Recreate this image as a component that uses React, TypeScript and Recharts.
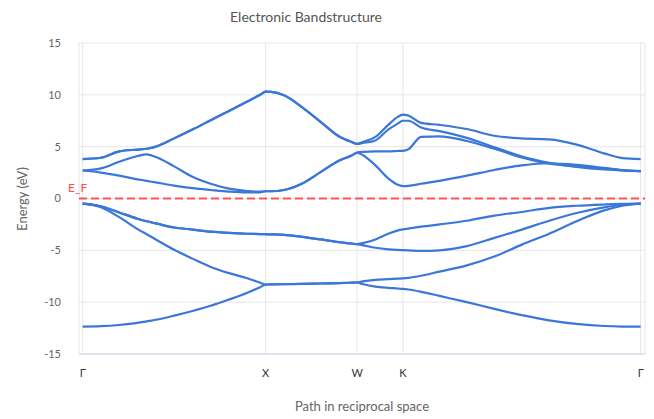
import React from 'react';
import { LineChart, Line, XAxis, YAxis, CartesianGrid, ReferenceLine } from 'recharts';

// Path coordinate along Γ – X – W – K – Γ
const kPoints = [
  0, 0.1, 0.2, 0.3, 0.35, 0.4, 0.5, 0.6, 0.7, 0.8, 0.9, 0.97, 1.0,
  1.03, 1.1, 1.2, 1.3, 1.4, 1.47, 1.5,
  1.53, 1.6, 1.67, 1.72, 1.75,
  1.78, 1.85, 1.95, 2.1, 2.25, 2.4, 2.55, 2.7, 2.85, 2.95, 3.05,
];
const kTicks = [0, 1, 1.5, 1.75, 3.05];
const kLabels = ['Γ', 'X', 'W', 'K', 'Γ'];
const energyTicks = [-15, -10, -5, 0, 5, 10, 15];
const fermiLevel = 0;

// Energies (eV)
const band1 = [
  -12.36, -12.32, -12.2, -12.0, -11.85, -11.7, -11.3, -10.85, -10.35, -9.75, -9.1, -8.55, -8.3,
  -8.29, -8.27, -8.24, -8.2, -8.16, -8.12, -8.1,
  -8.25, -8.5, -8.62, -8.68, -8.72,
  -8.78, -9.0, -9.4, -10.0, -10.65, -11.25, -11.75, -12.1, -12.3, -12.35, -12.36,
];
const band2 = [
  -0.5, -0.85, -1.8, -2.95, -3.45, -3.95, -4.95, -5.8, -6.6, -7.2, -7.7, -8.12, -8.3,
  -8.29, -8.27, -8.24, -8.2, -8.16, -8.12, -8.1,
  -8.0, -7.85, -7.78, -7.73, -7.7,
  -7.65, -7.45, -7.05, -6.45, -5.6, -4.45, -3.4, -2.2, -1.15, -0.7, -0.5,
];
const band3 = [
  -0.5, -0.75, -1.35, -1.95, -2.2, -2.4, -2.8, -3.0, -3.2, -3.32, -3.4, -3.43, -3.45,
  -3.46, -3.5, -3.7, -3.95, -4.2, -4.35, -4.4,
  -4.5, -4.75, -4.9, -4.96, -4.98,
  -5.0, -5.05, -5.0, -4.6, -3.8, -3.0, -2.15, -1.4, -0.85, -0.6, -0.5,
];
const band4 = [
  -0.5, -0.75, -1.35, -1.95, -2.2, -2.4, -2.8, -3.0, -3.2, -3.32, -3.4, -3.43, -3.45,
  -3.46, -3.5, -3.7, -3.95, -4.2, -4.35, -4.4,
  -4.3, -3.95, -3.4, -3.1, -2.98,
  -2.9, -2.72, -2.5, -2.15, -1.65, -1.3, -0.9, -0.7, -0.58, -0.52, -0.5,
];
const band5 = [
  2.7, 2.5, 2.2, 1.85, 1.7, 1.55, 1.25, 1.0, 0.82, 0.66, 0.58, 0.6, 0.7,
  0.7, 0.82, 1.45, 2.55, 3.65, 4.15, 4.42,
  4.2, 3.2, 1.95, 1.35, 1.2,
  1.22, 1.42, 1.7, 2.2, 2.75, 3.2, 3.4, 3.25, 2.95, 2.75, 2.65,
];
const band6 = [
  2.7, 2.9, 3.55, 4.1, 4.25, 4.0, 3.1, 2.1, 1.42, 0.95, 0.72, 0.66, 0.7,
  0.7, 0.82, 1.45, 2.55, 3.65, 4.15, 4.42,
  4.5, 4.55, 4.55, 4.58, 4.6,
  4.75, 5.95, 6.0, 5.55, 4.8, 3.95, 3.35, 3.1, 2.9, 2.72, 2.65,
];
const band7 = [
  3.8, 3.93, 4.55, 4.72, 4.8, 5.0, 5.8, 6.65, 7.55, 8.45, 9.35, 10.0, 10.3,
  10.28, 9.95, 8.8, 7.4, 6.0, 5.45, 5.26,
  5.35, 5.6, 6.65, 7.2, 7.5,
  7.5, 6.85, 6.5, 5.85, 4.95, 4.05, 3.45, 3.05, 2.8, 2.7, 2.65,
];
const band8 = [
  3.8, 3.93, 4.55, 4.72, 4.8, 5.0, 5.8, 6.65, 7.55, 8.45, 9.35, 10.0, 10.3,
  10.28, 9.95, 8.8, 7.4, 6.0, 5.45, 5.26,
  5.45, 5.95, 7.1, 7.85, 8.1,
  8.0, 7.3, 7.1, 6.7, 6.05, 5.8, 5.7, 5.2, 4.35, 3.9, 3.8,
];

const bands = [band1, band2, band3, band4, band5, band6, band7, band8];

const data = kPoints.map((k, i) => {
  const row: Record<string, number> = { k };
  bands.forEach((b, j) => {
    row['b' + (j + 1)] = b[i];
  });
  return row;
});

const FONT = 'Lato, "Open Sans", sans-serif';
const BAND_COLOR = '#3a77d9';

const FermiLabel = (props: any) => {
  const vb = props && props.viewBox;
  if (!vb) return null;
  return (
    <text x={vb.x - 11} y={vb.y - 7} fill="#ff4d4d" fontSize={12} fontFamily={FONT}>
      E_F
    </text>
  );
};

export default function App() {
  return (
    <div style={{ position: 'absolute', left: 0, top: 0, width: 654, height: 419, background: '#fff' }}>
      <LineChart
        width={654}
        height={419}
        data={data}
        margin={{ top: 43, right: 9, bottom: 0, left: 0 }}
      >
        <CartesianGrid stroke="#e6e6e6" strokeWidth={1} />
        <XAxis
          dataKey="k"
          type="number"
          domain={[-0.02, 3.0735]}
          ticks={kTicks}
          allowDataOverflow
          interval={0}
          tickFormatter={(v: number, i: number) => kLabels[i]}
          height={65}
          axisLine={{ stroke: '#ccd6eb' }}
          tickLine={false}
          tickSize={0}
          tickMargin={15}
          tick={{ fill: '#333', fontSize: 11, fontFamily: FONT }}
        />
        <YAxis
          type="number"
          domain={[-15, 15]}
          ticks={energyTicks}
          interval={0}
          width={79}
          axisLine={false}
          tickLine={false}
          tickSize={0}
          tickMargin={18}
          tick={{ fill: '#666', fontSize: 11, fontFamily: FONT }}
        />
        <ReferenceLine
          y={fermiLevel}
          stroke="#ff5252"
          strokeWidth={2}
          strokeDasharray="8 4"
          label={FermiLabel}
        />
        {bands.map((_, j) => (
          <Line
            key={j}
            dataKey={'b' + (j + 1)}
            type="monotone"
            stroke={BAND_COLOR}
            strokeWidth={2.2}
            dot={false}
            activeDot={false}
            isAnimationActive={false}
          />
        ))}
      </LineChart>
      <div
        style={{
          position: 'absolute', left: 156, width: 300, top: 8, textAlign: 'center',
          fontFamily: FONT, fontSize: 14, color: '#555',
        }}
      >
        Electronic Bandstructure
      </div>
      <div
        style={{
          position: 'absolute', left: 262, width: 200, top: 398, textAlign: 'center',
          fontFamily: FONT, fontSize: 13, color: '#666',
        }}
      >
        Path in reciprocal space
      </div>
      <div
        style={{
          position: 'absolute', left: 22 - 60, width: 120, top: 198.5 - 8, textAlign: 'center',
          fontFamily: FONT, fontSize: 13, color: '#666', lineHeight: '16px',
          transform: 'rotate(-90deg)', transformOrigin: '60px 8px',
        }}
      >
        Energy (eV)
      </div>
    </div>
  );
}
